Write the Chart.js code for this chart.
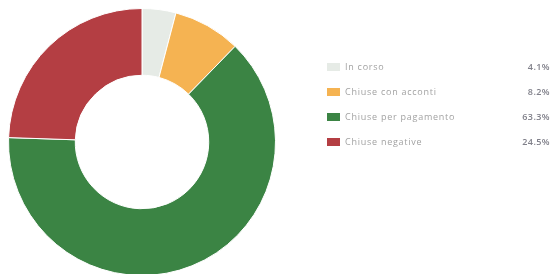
<!DOCTYPE html>
<html>
<head>
<meta charset="utf-8">
<script src="https://cdn.jsdelivr.net/npm/chart.js@4/dist/chart.umd.min.js"></script>
<style>
  html, body { margin: 0; padding: 0; background: #fff; overflow: hidden; }
  #wrap { position: relative; width: 554px; height: 274px; overflow: hidden; }
  #chart { position: absolute; left: 0; top: 0; }
  #legend { position: absolute; left: 327px; top: 60px; width: 223px; font-family: "Open Sans", "Noto Sans", sans-serif; font-size: 9px; }
  #legend .row { position: relative; height: 25px; line-height: 14px; }
  #legend .box { position: absolute; left: 0; top: 3px; width: 13px; height: 8px; }
  #legend .lbl { position: absolute; left: 18px; top: 0; color: #a2a2a2; letter-spacing: 0.75px; }
  #legend .val { position: absolute; right: 0; top: 0; color: #80808a; font-weight: 600; letter-spacing: 0.4px; }
</style>
</head>
<body>
<div id="wrap">
  <canvas id="chart" width="554" height="276"></canvas>
  <div id="legend"></div>
</div>
<script>
const categories = ['In corso', 'Chiuse con acconti', 'Chiuse per pagamento', 'Chiuse negative'];
const percentages = [4.1, 8.2, 63.3, 24.5];
const sliceColors = ['#e6ebe6', '#f5b352', '#3b8444', '#b43e43'];

const chart = new Chart(document.getElementById('chart'), {
  type: 'doughnut',
  data: {
    labels: categories,
    datasets: [{
      data: percentages,
      backgroundColor: sliceColors,
      borderColor: '#ffffff',
      borderWidth: 1,
    }],
  },
  options: {
    responsive: false,
    animation: false,
    cutout: '50%',
    layout: { padding: { left: 8, top: 8, right: 278, bottom: 0 } },
    plugins: { legend: { display: false }, tooltip: { enabled: false } },
  },
});

// html legend built from the chart data
const legend = document.getElementById('legend');
chart.data.labels.forEach((label, i) => {
  const row = document.createElement('div');
  row.className = 'row';
  row.innerHTML = `<span class="box" style="background:${sliceColors[i]}"></span>`
    + `<span class="lbl">${label}</span><span class="val">${percentages[i].toFixed(1)}%</span>`;
  legend.appendChild(row);
});
</script>
</body>
</html>
